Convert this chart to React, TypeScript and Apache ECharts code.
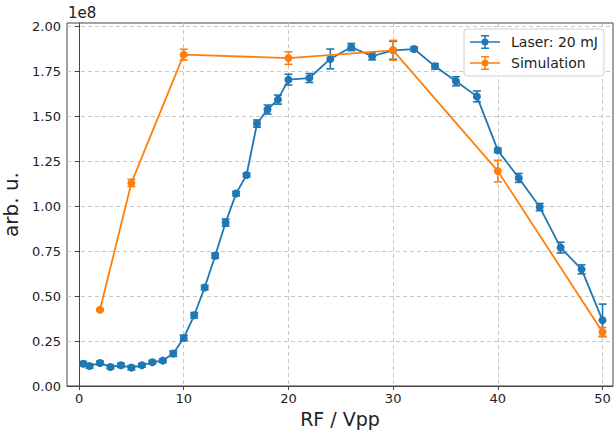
import React, { useEffect, useRef } from "react";
import * as echarts from "echarts";

const laserX = [0.4, 1, 2, 3, 4, 5, 6, 7, 8, 9, 10, 11, 12, 13, 14, 15, 16, 17, 18, 19, 20, 22, 24, 26, 28, 30, 32, 34, 36, 38, 40, 42, 44, 46, 48, 50];
const laserY = [0.124, 0.111, 0.128, 0.106, 0.115, 0.102, 0.115, 0.132, 0.141, 0.18, 0.267, 0.393, 0.547, 0.724, 0.908, 1.069, 1.172, 1.458, 1.536, 1.591, 1.702, 1.711, 1.817, 1.883, 1.832, 1.865, 1.872, 1.776, 1.693, 1.609, 1.309, 1.156, 0.994, 0.769, 0.648, 0.365];
const laserErr = [0.012, 0.012, 0.01, 0.01, 0.012, 0.012, 0.01, 0.01, 0.01, 0.015, 0.015, 0.015, 0.012, 0.015, 0.02, 0.012, 0.01, 0.02, 0.025, 0.025, 0.03, 0.025, 0.055, 0.02, 0.02, 0.05, 0.012, 0.015, 0.025, 0.03, 0.012, 0.025, 0.02, 0.03, 0.025, 0.09];

const simX = [2, 5, 10, 20, 30, 40, 50];
const simY = [0.424, 1.128, 1.841, 1.822, 1.865, 1.194, 0.3];
const simErr = [0.005, 0.02, 0.03, 0.035, 0.055, 0.06, 0.025];

const xTicks = [0, 10, 20, 30, 40, 50];
const yTicks = [0, 0.25, 0.5, 0.75, 1.0, 1.25, 1.5, 1.75, 2.0];

const BLUE = "#1f77b4";
const ORANGE = "#ff7f0e";
const FONT = "DejaVu Sans";

const legendIcon =
  "path://M0 6.25H30V7.75H0Z M14.25 0H15.75V14H14.25Z M11 0H19V1.5H11Z M11 12.5H19V14H11Z M18.5 7A3.5 3.5 0 1 1 11.5 7A3.5 3.5 0 1 1 18.5 7Z";

function errorSeries(name: string, xs: number[], ys: number[], es: number[], color: string, z: number) {
  return {
    type: "custom",
    name,
    z,
    data: xs.map((x, i) => [x, ys[i], es[i]]),
    encode: { x: 0, y: 1 },
    renderItem: (_params: any, api: any) => {
      const x = api.value(0);
      const y = api.value(1);
      const e = api.value(2);
      const top = api.coord([x, y + e]);
      const bot = api.coord([x, y - e]);
      const cap = 4;
      const style = { stroke: color, lineWidth: 1.6 };
      return {
        type: "group",
        children: [
          { type: "line", shape: { x1: top[0], y1: top[1], x2: bot[0], y2: bot[1] }, style },
          { type: "line", shape: { x1: top[0] - cap, y1: top[1], x2: top[0] + cap, y2: top[1] }, style },
          { type: "line", shape: { x1: bot[0] - cap, y1: bot[1], x2: bot[0] + cap, y2: bot[1] }, style },
        ],
      };
    },
  };
}

export default function App() {
  const ref = useRef<HTMLDivElement>(null);
  useEffect(() => {
    if (!ref.current) return;
    const chart = echarts.init(ref.current, null, { renderer: "svg" });
    chart.setOption({
      animation: false,
      textStyle: { fontFamily: FONT },
      grid: {
        left: 67,
        right: 1,
        top: 23,
        bottom: 46,
        containLabel: false,
        outerBoundsMode: "none",
        show: true,
        borderColor: "#444",
        borderWidth: 1,
        backgroundColor: "transparent",
      },
      legend: {
        left: 464,
        top: 29,
        orient: "vertical",
        icon: legendIcon,
        itemWidth: 30,
        itemHeight: 14,
        itemGap: 7,
        padding: [6, 6, 6, 6],
        backgroundColor: "rgba(255,255,255,0.85)",
        borderColor: "#d0d0d0",
        borderWidth: 1,
        borderRadius: 3,
        itemStyle: { borderWidth: 0 },
        textStyle: { fontSize: 14, color: "#222", fontFamily: FONT, padding: [0, 0, 0, 6] },
        data: ["Laser: 20 mJ", "Simulation"],
      },
      graphic: [
        {
          type: "text",
          left: 68,
          top: 5,
          style: { text: "1e8", fontSize: 15, fill: "#222", fontFamily: FONT },
        },
      ],
      xAxis: {
        type: "value",
        min: -1.15,
        max: 51,
        name: "RF / Vpp",
        nameLocation: "middle",
        nameGap: 23,
        nameTextStyle: { fontSize: 19, color: "#222", fontFamily: FONT, verticalAlign: "top" },
        axisLine: { show: true, lineStyle: { color: "#444", width: 1 } },
        axisTick: { show: true, length: 4, lineStyle: { color: "#444" }, customValues: xTicks },
        axisLabel: { fontSize: 13, color: "#222", margin: 6, customValues: xTicks },
        splitLine: { show: true, lineStyle: { color: "#c8c8c8", type: [4, 3], width: 1 } },
      },
      yAxis: {
        type: "value",
        min: 0,
        max: 2.0167,
        name: "arb. u.",
        nameLocation: "middle",
        nameGap: 41,
        nameTextStyle: { fontSize: 20, color: "#222", fontFamily: FONT },
        axisLine: { show: true, lineStyle: { color: "#444", width: 1 } },
        axisTick: { show: true, length: 4, lineStyle: { color: "#444" }, customValues: yTicks },
        axisLabel: {
          fontSize: 13,
          color: "#222",
          margin: 6,
          customValues: yTicks,
          formatter: (v: number) => v.toFixed(2),
        },
        splitLine: { show: true, lineStyle: { color: "#c8c8c8", type: [4, 3], width: 1 } },
      },
      series: [
        errorSeries("laserErr", laserX, laserY, laserErr, BLUE, 2),
        {
          type: "line",
          name: "Laser: 20 mJ",
          data: laserX.map((x, i) => [x, laserY[i]]),
          color: BLUE,
          symbol: "circle",
          symbolSize: 8,
          lineStyle: { width: 1.8, color: BLUE },
          itemStyle: { color: BLUE, borderWidth: 0 },
          z: 3,
        },
        errorSeries("simErr", simX, simY, simErr, ORANGE, 4),
        {
          type: "line",
          name: "Simulation",
          data: simX.map((x, i) => [x, simY[i]]),
          color: ORANGE,
          symbol: "circle",
          symbolSize: 8,
          lineStyle: { width: 1.8, color: ORANGE },
          itemStyle: { color: ORANGE, borderWidth: 0 },
          z: 5,
        },
      ],
    });
    return () => chart.dispose();
  }, []);
  return (
    <div
      ref={ref}
      style={{ position: "absolute", left: 0, top: 0, width: 614, height: 432, background: "#fff" }}
    />
  );
}
